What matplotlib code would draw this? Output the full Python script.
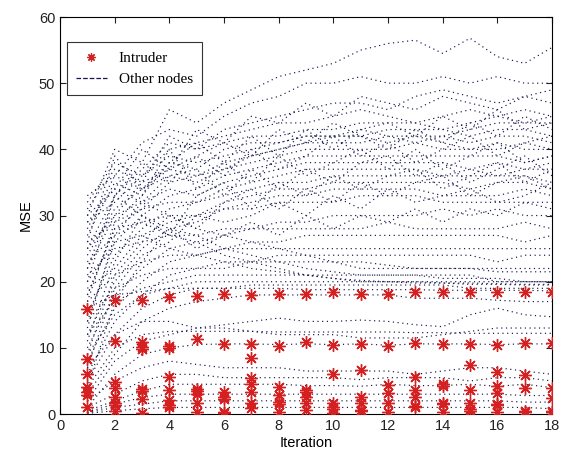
import numpy as np
import matplotlib
matplotlib.use('Agg')
import matplotlib.pyplot as plt

# --------------- DATA ---------------
iterations = list(range(1, 19))

# MSE of the intruder at each iteration (several runs per iteration)
intruder_mse = [
    [15.8, 8.3, 6.0, 4.1, 3.3, 2.9, 1.0],
    [17.3, 11.1, 4.9, 3.9, 2.6, 1.6, 1.3, 0.4],
    [17.3, 10.9, 10.2, 9.9, 3.8, 3.5, 2.2, 0.2],
    [17.7, 10.3, 10.0, 5.6, 3.7, 2.1, 1.3, 1.0],
    [17.8, 11.3, 3.8, 3.5, 3.0, 1.6, 0.35],
    [18.2, 10.6, 3.4, 2.6, 2.3, 0.3, 0.1],
    [18.0, 10.6, 8.4, 5.4, 4.5, 3.4, 1.6, 0.9],
    [18.1, 10.3, 4.1, 2.9, 1.8, 1.5, 0.35],
    [18.2, 10.9, 3.6, 3.3, 2.6, 1.6, 0.6],
    [18.5, 10.4, 6.0, 1.6, 1.0, 0.8, 0.2],
    [18.2, 10.6, 6.6, 2.6, 1.6, 0.6, 0.4],
    [18.2, 10.3, 4.4, 3.2, 1.7, 0.35],
    [18.5, 10.8, 5.6, 3.6, 2.6, 1.2, 1.0],
    [18.5, 10.6, 4.5, 4.3, 1.7, 1.5, 0.35],
    [18.5, 10.6, 7.4, 3.7, 1.6, 0.7, 0.5],
    [18.5, 10.4, 6.4, 4.2, 3.2, 1.5, 1.3, 0.35],
    [18.5, 10.8, 5.9, 4.0, 0.5, 0.3],
    [18.5, 10.7, 3.9, 2.4, 0.5, 0.3],
]

# MSE of the other nodes, one row per node
upper_nodes = [
    [30, 40, 38, 46, 44, 47, 49, 51, 52, 53, 55, 56, 56.5, 54.5, 56.8, 54, 53, 55.4],
    [28, 36, 41, 43, 42, 45, 47, 48, 50, 50, 51, 50, 50, 51, 50, 51, 50, 50],
    [25, 33, 37, 41, 40, 43, 44, 45, 46, 47, 47, 46, 48, 49, 48, 47, 48, 49],
    [32, 38, 36, 40, 41, 42, 43, 44, 44, 45, 46, 45, 44, 45, 46, 45, 46, 45],
    [22, 30, 35, 37, 39, 41, 42, 42, 43, 43, 44, 44, 44, 43, 44, 45, 44, 44],
    [27, 35, 33, 38, 37, 40, 41, 41, 42, 42, 42, 43, 43, 43, 42, 43, 43, 42],
    [18, 28, 31, 35, 36, 38, 39, 40, 41, 41, 41, 42, 42, 42, 41, 42, 42, 41],
    [24, 31, 34, 36, 35, 37, 38, 39, 40, 40, 40, 40, 41, 40, 40, 41, 40, 40],
    [20, 26, 30, 33, 34, 36, 37, 38, 39, 39, 39, 39, 39, 39, 39, 39, 38, 39],
    [30, 34, 32, 34, 33, 35, 36, 37, 38, 38, 38, 38, 38, 38, 37, 38, 37, 38],
    [15, 24, 28, 31, 32, 34, 35, 36, 37, 37, 37, 37, 37, 36, 37, 36, 37, 37],
    [26, 29, 31, 32, 32, 33, 34, 35, 35, 36, 36, 36, 36, 36, 36, 36, 36, 35],
    [19, 22, 27, 29, 30, 32, 33, 34, 34, 35, 35, 35, 35, 35, 34, 35, 35, 34],
    [12, 20, 25, 28, 29, 31, 32, 33, 33, 34, 34, 34, 34, 33, 33, 33, 34, 33],
    [23, 27, 29, 30, 30, 31, 31, 32, 32, 32, 33, 33, 33, 32, 32, 32, 32, 32],
    [33, 36, 34, 37, 36, 37, 39, 40, 41, 42, 43, 42, 41, 42, 43, 44, 44, 45],
    [29, 32, 36, 39, 38, 39, 40, 41, 42, 42, 42, 41, 42, 41, 40, 40, 41, 42],
]
crossing_nodes = [
    [31, 37, 35, 42, 40, 41, 39, 43, 41, 44, 42, 40, 43, 41, 44, 42, 45, 43],
    [26, 39, 34, 38, 41, 38, 42, 39, 43, 40, 43, 44, 42, 45, 43, 46, 43, 44],
    [22, 33, 38, 35, 39, 36, 40, 37, 39, 42, 39, 41, 38, 40, 42, 39, 41, 40],
    [17, 29, 33, 40, 34, 38, 35, 39, 36, 38, 40, 37, 40, 37, 39, 41, 38, 39],
    [13, 27, 32, 36, 37, 33, 37, 34, 37, 35, 38, 39, 36, 38, 35, 37, 39, 36],
    [11, 23, 30, 27, 33, 35, 31, 35, 33, 36, 34, 36, 37, 34, 36, 38, 35, 37],
    [9, 21, 26, 30, 28, 32, 34, 31, 34, 32, 35, 33, 35, 36, 33, 35, 36, 34],
    [7, 19, 24, 26, 30, 29, 30, 32, 30, 33, 31, 34, 32, 33, 34, 32, 33, 35],
    [4, 17, 23, 28, 25, 27, 29, 27, 30, 28, 30, 29, 31, 29, 31, 30, 32, 31],
    [29, 34, 40, 37, 43, 41, 45, 44, 47, 45, 48, 47, 46, 48, 47, 46, 48, 47],
]
falling_nodes = [
    [20, 33, 30, 28, 27, 25, 24, 23, 22, 21.5, 21, 21, 21, 20.5, 20.5, 20.5, 20, 20],
    [25, 30, 32, 30, 28, 27, 26, 25, 24, 23, 23, 22.5, 22, 22, 22, 21.5, 21.5, 21.5],
    [18, 28, 29, 27, 26, 24, 23, 22, 21, 20.5, 20, 20, 19.8, 19.8, 19.6, 19.6, 19.5, 19.5],
    [14, 26, 27, 25, 24, 23, 22, 21.5, 21, 20.5, 20.2, 20, 20, 19.8, 19.8, 19.7, 19.6, 19.6],
]
middle_nodes = [
    [10, 18, 22, 25, 26, 27, 28, 29, 29, 30, 30, 30, 30, 31, 30, 31, 30, 30],
    [21, 25, 26, 27, 27, 28, 28, 28, 28, 28, 28, 29, 28, 28, 28, 28, 29, 28],
    [8, 16, 20, 23, 24, 25, 26, 26, 27, 27, 27, 27, 27, 27, 27, 27, 26, 27],
    [17, 21, 23, 24, 24, 25, 25, 25, 25, 25, 25, 25, 25, 25, 25, 25, 25, 25],
    [6, 14, 18, 21, 22, 23, 23, 24, 24, 24, 24, 24, 24, 24, 24, 23, 24, 24],
    [14, 19, 21, 22, 22, 22, 23, 23, 23, 23, 22, 22, 22, 22, 22, 22, 22, 22],
    [12, 17, 19, 20, 21, 21, 21, 21, 21, 21, 21, 21, 21, 21, 21, 20, 20, 20],
    [9, 15, 18, 19, 20, 20, 20, 20, 20, 20, 20, 20, 20, 20, 20, 20, 20, 20],
    [5, 12, 16, 18, 19, 19, 19.5, 19.5, 19.5, 19.5, 19.5, 19.5, 19.5, 19.5, 19, 19, 19, 19],
    [16, 18, 18.5, 19, 19, 19, 19, 19, 18.8, 18.8, 18.8, 18.8, 18.8, 18.7, 18.7, 18.7, 18.7, 18.6],
    [3, 9, 14, 16, 17, 17.5, 18, 18, 18, 18, 18, 18, 17.5, 17.5, 17.5, 17.2, 17, 17],
]
lower_nodes = [
    [7, 12, 14, 14, 13, 13, 12.5, 12, 12, 12, 11.5, 11.5, 11.5, 12, 12.5, 13, 13, 13],
    [4, 10, 12, 12.5, 12.5, 12.5, 12.5, 12.4, 12.4, 12.4, 12.4, 12.4, 12.3, 12.3, 12.2, 12.2, 12.2, 12.2],
    [2, 8, 11, 12, 13, 13.5, 14, 14.5, 14, 14, 14.2, 14, 13.5, 13.2, 15, 16, 15, 14.7],
    [1, 6, 9, 10, 10.5, 10.6, 10.6, 10.5, 10.6, 10.5, 10.6, 10.4, 10.6, 10.6, 10.6, 10.5, 10.6, 10.6],
]
bottom_nodes = [
    [2, 5, 7, 8, 7.5, 7, 7, 7, 6.5, 6.5, 6.5, 6.5, 6, 6.5, 7, 7, 6.5, 6],
    [1, 3, 5, 6, 6, 5.5, 5.5, 5.5, 5.5, 5.5, 5.2, 5.5, 5.5, 5.5, 5, 5.5, 5.5, 5],
    [0.5, 2, 3.5, 4.5, 4.5, 4.5, 4.5, 4.5, 4.3, 4.3, 4.2, 4.5, 4.3, 4.3, 4.5, 4.2, 4.5, 4],
    [0.3, 1.5, 2.5, 3, 3, 3, 3, 3, 3, 3, 3, 3, 3, 3, 3, 3, 2.8, 2.8],
    [0.2, 1, 1.5, 2, 2, 2, 2, 2, 2, 2, 2, 2, 2, 2, 2, 2, 1.8, 1.8],
    [0.1, 0.5, 0.8, 1, 1, 1, 1, 1, 1, 1, 1, 1, 1, 1, 1, 1, 1, 0.8],
]

x_ticks = list(range(0, 19, 2))
y_ticks = list(range(0, 61, 10))

# --------------- PLOT ---------------
plt.rcParams['font.family'] = ['Liberation Sans', 'DejaVu Sans']
fig = plt.figure(figsize=(5.61, 4.54), dpi=100)
ax = fig.add_axes([0.107, 0.088, 0.877, 0.8745])

node_color = '#15154a'
for group in (upper_nodes, crossing_nodes, falling_nodes, middle_nodes,
              lower_nodes, bottom_nodes):
    for row in group:
        ax.plot(iterations, row, color=node_color, linestyle=(0, (1, 3)),
                linewidth=0.85)

star = (8, 2, 0)
for it, values in zip(iterations, intruder_mse):
    ax.plot([it] * len(values), values, linestyle='none', marker=star,
            markersize=9, markeredgewidth=1.0, color='#d42020', zorder=5)

ax.set_xlim(0, 18)
ax.set_ylim(0, 60)
ax.set_xticks(x_ticks)
ax.set_yticks(y_ticks)
ax.tick_params(direction='in', top=True, right=True, length=4, labelsize=10.5,
               colors='#222222')
for s in ax.spines.values():
    s.set_linewidth(0.8)
ax.set_xlabel('Iteration', fontsize=10.5, labelpad=2)
ax.set_ylabel('MSE', fontsize=10.5, labelpad=4)

handles = [
    plt.Line2D([], [], linestyle='none', marker=star, markersize=6,
               markeredgewidth=0.9, color='#d42020'),
    plt.Line2D([], [], linestyle='--', color=node_color, linewidth=0.9),
]
leg = ax.legend(handles, ['Intruder', 'Other nodes'], loc='upper left',
                bbox_to_anchor=(0.014, 0.937), borderaxespad=0, frameon=True,
                fancybox=False, edgecolor='black', handlelength=2.0,
                borderpad=0.6, prop={'family': 'Liberation Serif', 'size': 11})
leg.get_frame().set_linewidth(0.8)

fig.savefig('out.png', dpi=100)
